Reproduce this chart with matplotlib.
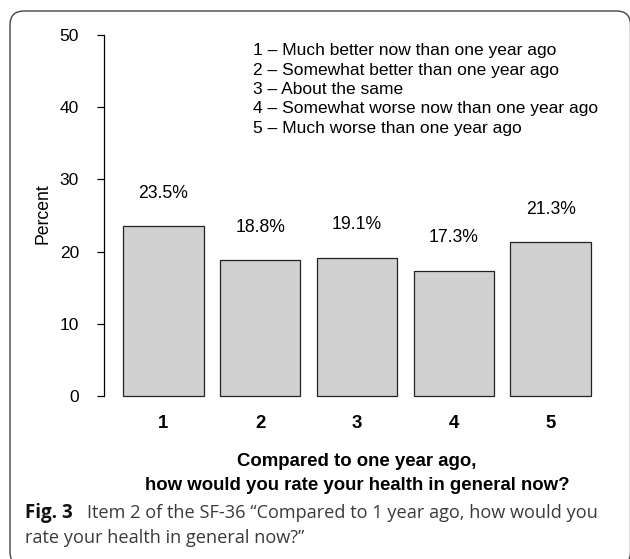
import matplotlib
matplotlib.use("Agg")
import matplotlib.pyplot as plt
from matplotlib.patches import FancyBboxPatch

categories = ["1", "2", "3", "4", "5"]
percent = [23.5, 18.8, 19.1, 17.3, 21.3]
value_labels = ["23.5%", "18.8%", "19.1%", "17.3%", "21.3%"]
yticks = [0, 10, 20, 30, 40, 50]
legend_lines = [
    "1 \u2013 Much better now than one year ago",
    "2 \u2013 Somewhat better than one year ago",
    "3 \u2013 About the same",
    "4 \u2013 Somewhat worse now than one year ago",
    "5 \u2013 Much worse than one year ago",
]
xlabel_lines = ["Compared to one year ago,", "how would you rate your health in general now?"]
cap_bold = "Fig. 3"
cap_line1 = "Item 2 of the SF-36 \u201cCompared to 1 year ago, how would you"
cap_line2 = "rate your health in general now?\u201d"

W, H = 630, 559
fig = plt.figure(figsize=(W / 100, H / 100), dpi=100)
plt.rcParams['font.family'] = ['Liberation Sans', 'DejaVu Sans']

def fy(py):
    return 1 - py / H

# rounded frame in inches (pixel/100): x 10..630.5, y 11..566 from top
frame = FancyBboxPatch((10 / 100, (H - 566) / 100), 620.5 / 100, (566 - 11) / 100,
                       boxstyle="round,pad=0,rounding_size=0.14",
                       transform=fig.dpi_scale_trans, fill=False,
                       edgecolor="#444444", linewidth=1.0)
fig.patches.append(frame)

# axes: x from 104 to 610 px, y from 410.4 to 20.6 px (top-origin)
ax = fig.add_axes([104 / W, fy(410.4), (610 - 104) / W, (410.4 - 20.6) / H])
ax.set_facecolor("none")

xpos = [0.7 + 1.2 * i for i in range(len(percent))]
ax.bar(xpos, percent, width=1.0, color="#d0d0d0", edgecolor="#222222", linewidth=0.9)
ax.set_xlim(-0.032, 6.232)
ax.set_ylim(-2, 52)

for x, v, lab in zip(xpos, percent, value_labels):
    ax.text(x, v + 4.6, lab, ha="center", va="center", fontsize=12.7)

for s in ["top", "right", "bottom"]:
    ax.spines[s].set_visible(False)
ax.spines["left"].set_bounds(0, 50)
ax.spines["left"].set_linewidth(0.9)
ax.set_yticks(yticks)
ax.set_yticklabels([str(t) for t in yticks], fontsize=12.5)
ax.tick_params(axis="y", length=5, width=0.9, pad=13)
ax.set_xticks(xpos)
ax.set_xticklabels(categories, fontsize=13.4, fontweight="bold")
ax.tick_params(axis="x", length=0, pad=3.5)

fig.text(43 / W, fy(214), "Percent", rotation=90, ha="center", va="center", fontsize=12.7)

# legend text
for i, line in enumerate(legend_lines):
    fig.text(253 / W, fy(51 + i * 19.3), line, ha="left", va="center", fontsize=12.5)

# x title
fig.text(357 / W, fy(461), xlabel_lines[0], ha="center", va="center",
         fontsize=13.4, fontweight="bold")
fig.text(357 / W, fy(485), xlabel_lines[1], ha="center",
         va="center", fontsize=13.4, fontweight="bold")

# caption
cap_font = ['Open Sans', 'DejaVu Sans']
fig.text(25 / W, fy(513), cap_bold, ha="left", va="center", fontsize=13.5,
         fontweight="bold", family=cap_font, color="#111111")
fig.text(87 / W, fy(513), cap_line1, ha="left", va="center", fontsize=13.1,
         family=cap_font, color="#3a3a3a")
fig.text(25 / W, fy(538), cap_line2, ha="left", va="center", fontsize=13.1,
         family=cap_font, color="#3a3a3a")

fig.savefig("out.png", dpi=100)
